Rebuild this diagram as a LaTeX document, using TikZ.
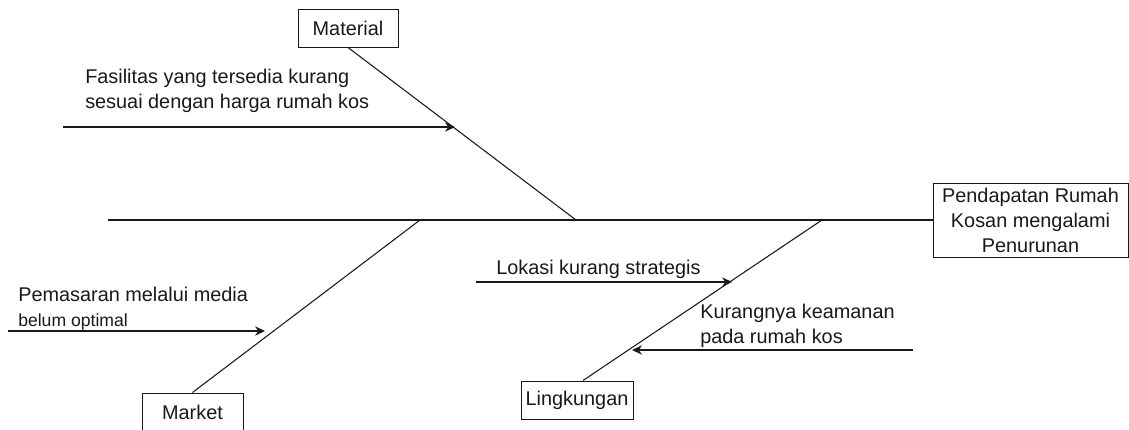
\documentclass[tikz,border=0pt]{standalone}
\usepackage{fontspec}
\setmainfont{Liberation Sans}
\usetikzlibrary{arrows.meta, calc}

\begin{document}
\begin{tikzpicture}[
  x=0.75pt, y=-0.75pt,
  every node/.style={font=\fontsize{14.9}{18.75}\selectfont, text=black!90},
  catbox/.style={draw=black!90, line width=0.75pt, minimum height=28.5pt,
                 inner sep=2pt, align=center},
  bone/.style={draw=black!90, line width=0.8pt},
  cause/.style={-{Stealth[length=7.5pt, width=7pt, inset=2.5pt]}, draw=black!90, line width=0.8pt},
  note/.style={inner sep=0pt, anchor=west, align=left},
]
  \useasboundingbox (0,0) rectangle (1129,429);

  % categories and effect
  \node[catbox, minimum width=75pt] (material) at (348,28) {Material};
  \node[catbox, minimum width=75.75pt] (market) at (192.5,412) {Market};
  \node[catbox, minimum width=84pt] (lingkungan) at (577,400) {Lingkungan};
  \node[catbox, minimum width=146.25pt, minimum height=55.5pt] (effect) at (1030.5,220)
    {Pendapatan Rumah\\Kosan mengalami\\Penurunan};

  % spine and bones
  \coordinate (tail) at (108,220);
  \coordinate (jmat) at (576,220);
  \coordinate (jmar) at (420,220);
  \coordinate (jlin) at (822,220);
  \draw[bone] (tail) -- (effect.west);
  \draw[bone] (material.south) -- (jmat);
  \draw[bone] (jmar) -- (market.north);
  \draw[bone] (jlin) -- ([xshift=4.5pt]lingkungan.north);

  % causes
  \coordinate (fasStart) at (63,127);
  \coordinate (fasTip) at (455,127);
  \draw[cause] (fasStart) -- (fasTip);
  \node[note] (fasilitas) at (85,90.5) {Fasilitas yang tersedia kurang\\sesuai dengan harga rumah kos};

  \coordinate (pemStart) at (8,331);
  \coordinate (pemTip) at (265,331);
  \draw[cause] (pemStart) -- (pemTip);
  \node[note] (pemasaran) at (18,309) {Pemasaran melalui media\\{\fontsize{13.2}{16}\selectfont belum optimal}};

  \coordinate (lokStart) at (476,282);
  \coordinate (lokTip) at (732,282);
  \draw[cause] (lokStart) -- (lokTip);
  \node[note] (lokasi) at (496,269) {Lokasi kurang strategis};

  \coordinate (kamStart) at (913,350);
  \coordinate (kamTip) at (632,350);
  \draw[cause] (kamStart) -- (kamTip);
  \node[note] (keamanan) at (700,325.5) {Kurangnya keamanan\\pada rumah kos};
\end{tikzpicture}
\end{document}
